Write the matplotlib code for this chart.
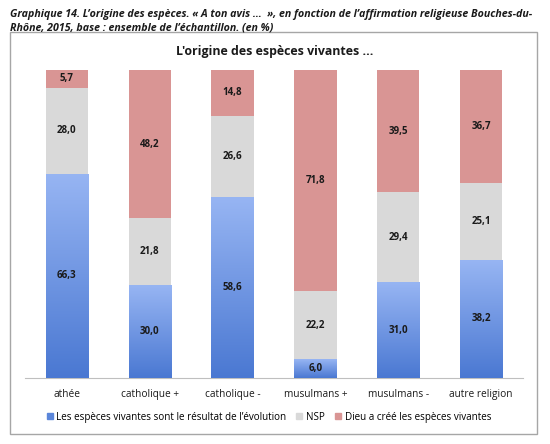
import matplotlib
matplotlib.use("Agg")
import matplotlib.pyplot as plt
import numpy as np
from matplotlib.patches import Rectangle
from matplotlib.colors import LinearSegmentedColormap

categories = ["athée", "catholique +", "catholique -", "musulmans +", "musulmans -", "autre religion"]
evolution = [66.3, 30.0, 58.6, 6.0, 31.0, 38.2]
nsp = [28.0, 21.8, 26.6, 22.2, 29.4, 25.1]
dieu = [5.7, 48.2, 14.8, 71.8, 39.5, 36.7]
series_names = ["Les espèces vivantes sont le résultat de l\u2019évolution", "NSP",
                "Dieu a créé les espèces vivantes"]

FONT = ["Open Sans", "DejaVu Sans"]
plt.rcParams['font.family'] = FONT

fig = plt.figure(figsize=(5.5, 4.44), dpi=100)
W, H = 550, 444

# outer frame
fig.add_artist(Rectangle((10 / W, 1 - 434 / H), 527 / W, 402 / H, transform=fig.transFigure,
                         fill=False, edgecolor="#a6a6a6", linewidth=1.0))

fig.text(10 / W, 1 - 14 / H,
         "Graphique 14. L\u2019origine des espèces. « A ton avis \u2026  », en fonction de l\u2019affirmation religieuse Bouches-du-",
         fontsize=7.65, fontweight="bold", fontstyle="italic", color="#1a1a1a", va="center", ha="left")
fig.text(10 / W, 1 - 28 / H,
         "Rhône, 2015, base : ensemble de l\u2019échantillon. (en %)",
         fontsize=7.65, fontweight="bold", fontstyle="italic", color="#1a1a1a", va="center", ha="left")

fig.text(275 / W, 1 - 52 / H, "L'origine des espèces vivantes ...", fontsize=8.9, fontweight="bold",
         ha="center", va="center", color="#1a1a1a")

ax = fig.add_axes([25.5 / W, 1 - 377.7 / H, 497 / W, 307.7 / H])
x = np.arange(len(categories))
w = 0.51

blue_cmap = LinearSegmentedColormap.from_list("b", ["#4a78d2", "#97b5f3"])
ev = np.array(evolution)
ns = np.array(nsp)
di = np.array(dieu)

b1 = ax.bar(x, ev, w, color="#6a93e3", edgecolor="none", zorder=2)
b2 = ax.bar(x, ns, w, bottom=ev, color="#d9d9d9", edgecolor="none", zorder=2)
b3 = ax.bar(x, di, w, bottom=ev + ns, color="#d99594", edgecolor="none", zorder=2)

grad = np.linspace(0, 1, 256).reshape(-1, 1)
for rect in b1:
    x0, y0 = rect.get_x(), rect.get_y()
    im = ax.imshow(grad, cmap=blue_cmap, origin="lower", aspect="auto",
                   extent=[x0, x0 + rect.get_width(), y0, y0 + rect.get_height()], zorder=3)
    im.set_clip_path(rect)

def fmt(v):
    return f"{v:.1f}".replace(".", ",")

for i in range(len(categories)):
    ax.text(x[i], ev[i] / 2, fmt(ev[i]), ha="center", va="center", fontsize=7,
            fontweight="bold", color="#1a1a1a", zorder=5)
    ax.text(x[i], ev[i] + ns[i] / 2, fmt(ns[i]), ha="center", va="center", fontsize=7,
            fontweight="bold", color="#1a1a1a", zorder=5)
    ax.text(x[i], ev[i] + ns[i] + di[i] / 2, fmt(di[i]), ha="center", va="center", fontsize=7,
            fontweight="bold", color="#1a1a1a", zorder=5)

ax.set_xlim(-0.5, 5.5)
ax.set_ylim(0, 100)
ax.set_yticks([])
ax.set_xticks(x)
ax.set_xticklabels(categories, fontsize=7.3, color="#1a1a1a")
ax.tick_params(axis="x", length=0, pad=8)
for s in ["top", "right", "left"]:
    ax.spines[s].set_visible(False)
ax.spines["bottom"].set_color("#bfbfbf")

handles = [Rectangle((0, 0), 1, 1, color=c) for c in ["#5b86da", "#d9d9d9", "#d99594"]]
fig.legend(handles, series_names, loc="center", bbox_to_anchor=(269 / W, 1 - 417 / H), ncol=3,
           frameon=False, fontsize=7.1, handlelength=0.6, handleheight=0.6, handletextpad=0.4,
           columnspacing=1.0)

fig.savefig("out.png", dpi=100)
